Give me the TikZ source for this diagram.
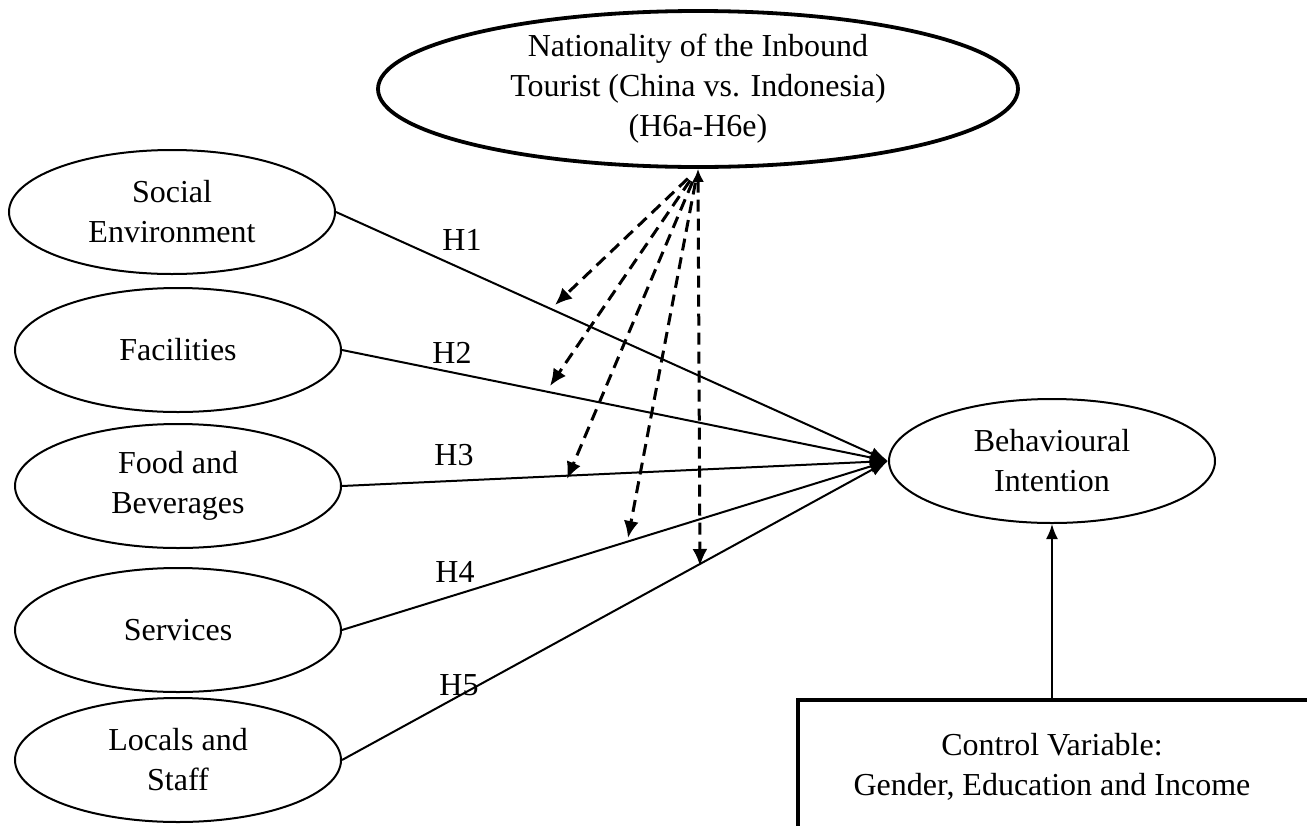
\documentclass[tikz,border=0pt]{standalone}
\usepackage{fontspec}
\setmainfont{Liberation Serif}
\usetikzlibrary{shapes.geometric,arrows.meta}
\begin{document}
\begin{tikzpicture}[x=1pt,y=-1pt,
  every node/.style={font=\fontsize{32}{40}\selectfont},
  construct/.style={ellipse,draw,line width=2pt,inner sep=0pt,align=center,
    minimum width=326pt,minimum height=124pt},
  mainarr/.style={line width=2pt,-{Latex[length=18pt,width=13pt]}},
  dasharr/.style={line width=3pt,dash pattern=on 12pt off 7pt,
    -{Latex[length=17pt,width=15pt]}},
  hlabel/.style={inner sep=0pt}]
\useasboundingbox (0,0) rectangle (1307,825);
% top moderator
\node[construct,line width=3.8pt,minimum width=640pt,minimum height=156pt] (nat) at (698,89)
  {Nationality of the Inbound\\Tourist (China vs. Indonesia)\\(H6a-H6e)};
% left constructs
\node[construct] (soc) at (172,212) {Social\\Environment};
\node[construct] (fac) at (178,350) {Facilities};
\node[construct] (food) at (178,486) {Food and\\Beverages};
\node[construct] (serv) at (178,630) {Services};
\node[construct] (loc) at (178,760) {Locals and\\Staff};
% outcome
\node[construct] (bi) at (1052,461) {Behavioural\\Intention};
% control
\node[inner sep=0pt,align=center,minimum height=134pt] (ctrl) at (1052,767)
  {Control Variable:\\Gender, Education and Income};
\draw[line width=4.6pt] (1340,700) -- (798,700) -- (798,860);
% main paths
\draw[mainarr] (soc.east) -- (bi.west);
\draw[mainarr] (fac.east) -- (bi.west);
\draw[mainarr] (food.east) -- (bi.west);
\draw[mainarr] (serv.east) -- (bi.west);
\draw[mainarr] (loc.east) -- (bi.west);
\draw[line width=2pt,-{Latex[length=15pt,width=12pt]}] (ctrl.north) -- (bi.south);
% hypothesis labels
\node[hlabel] (h1) at (462,240) {H1};
\node[hlabel] (h2) at (452,353) {H2};
\node[hlabel] (h3) at (454,455) {H3};
\node[hlabel] (h4) at (455,572) {H4};
\node[hlabel] (h5) at (459,685) {H5};
% moderating dashed arrows
\coordinate (e1) at (555,305);
\coordinate (e2) at (550,386);
\coordinate (e3) at (567,479);
\coordinate (e4) at (628,538);
\coordinate (e5) at (700,566);
\draw[dasharr,shorten <=14pt] (nat.south) -- (e1);
\draw[dasharr,shorten <=14pt] (nat.south) -- (e2);
\draw[dasharr,shorten <=14pt] (nat.south) -- (e3);
\draw[dasharr,shorten <=14pt] (nat.south) -- (e4);
\draw[dasharr,{Latex[length=13pt,width=12pt]}-{Latex[length=17pt,width=15pt]}] (nat.south) -- (e5);
\end{tikzpicture}
\end{document}
